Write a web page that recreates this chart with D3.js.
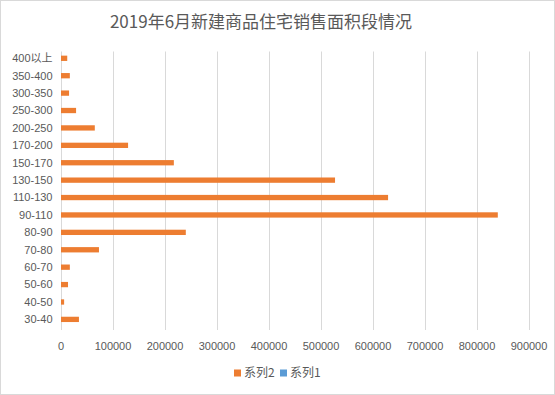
<!DOCTYPE html>
<html>
<head>
<meta charset="utf-8">
<script src="https://cdn.jsdelivr.net/npm/d3@7/dist/d3.min.js"></script>
<style>
  html, body { margin: 0; padding: 0; background: #fff; }
  svg { display: block; }
</style>
</head>
<body>
<div id="chart"></div>
<script>
// categories top to bottom
const categories = ["400以上", "350-400", "300-350", "250-300", "200-250", "170-200", "150-170",
  "130-150", "110-130", "90-110", "80-90", "70-80", "60-70", "50-60", "40-50", "30-40"];
const series2 = [12000, 17000, 15500, 29000, 65000, 129000, 217000,
  527000, 629000, 840000, 240000, 73000, 17000, 13500, 6000, 34500];
const series1 = categories.map(() => 0);
const seriesNames = ["系列2", "系列1"];
const xTicks = [0, 100000, 200000, 300000, 400000, 500000, 600000, 700000, 800000, 900000];

const ORANGE = "#ED7D31", BLUE = "#5B9BD5", GRID = "#d9d9d9", TEXT = "#595959";
const W = 555, H = 395;
const FONT = "'Liberation Sans', Arial, 'Noto Sans CJK SC', sans-serif";

const svg = d3.select("#chart").append("svg")
  .attr("width", W).attr("height", H);

svg.append("rect")
  .attr("x", 0.5).attr("y", 0.5)
  .attr("width", W - 1).attr("height", H - 1)
  .attr("fill", "#fff").attr("stroke", GRID);

svg.append("text")
  .attr("x", 261).attr("y", 28)
  .attr("text-anchor", "middle")
  .attr("fill", TEXT)
  .style("font-family", "'Microsoft YaHei', 'Noto Sans CJK SC', sans-serif")
  .style("font-size", "17px")
  .text("2019年6月新建商品住宅销售面积段情况");

const x = d3.scaleLinear().domain([0, 900000]).range([61, 529]);
const y = d3.scaleBand().domain(categories).range([51.5, 330]);
const inner = d3.scaleBand().domain(seriesNames).range([0, y.bandwidth()])
  .paddingInner(0).paddingOuter(0.64).align(0.61);

// gridlines
svg.append("g").selectAll("line")
  .data(xTicks)
  .enter().append("line")
  .attr("x1", d => Math.round(x(d)) + 0.5).attr("x2", d => Math.round(x(d)) + 0.5)
  .attr("y1", y.range()[0]).attr("y2", y.range()[1])
  .attr("stroke", GRID).attr("stroke-width", 1);

// bars
const rows = categories.map((c, i) => ({ cat: c, values: [series2[i], series1[i]] }));
const colors = [ORANGE, BLUE];
const row = svg.append("g").selectAll("g")
  .data(rows)
  .enter().append("g")
  .attr("transform", d => "translate(0," + y(d.cat) + ")");
row.selectAll("rect")
  .data(d => d.values.map((v, j) => ({ v: v, s: seriesNames[j], c: colors[j] })))
  .enter().append("rect")
  .attr("x", x(0))
  .attr("y", d => inner(d.s))
  .attr("height", inner.bandwidth())
  .attr("width", d => x(d.v) - x(0))
  .attr("fill", d => d.c);

// category labels
svg.append("g").selectAll("text")
  .data(categories)
  .enter().append("text")
  .attr("x", 52.5)
  .attr("y", d => y(d) + inner(seriesNames[0]) + inner.bandwidth() / 2)
  .attr("dy", "0.35em")
  .attr("text-anchor", "end")
  .attr("fill", TEXT)
  .style("font-family", FONT)
  .style("font-size", "11px")
  .text(d => d);

// x tick labels
svg.append("g").selectAll("text")
  .data(xTicks)
  .enter().append("text")
  .attr("x", d => x(d))
  .attr("y", 346)
  .attr("dy", "0.35em")
  .attr("text-anchor", "middle")
  .attr("fill", TEXT)
  .style("font-family", FONT)
  .style("font-size", "11px")
  .text(d => d);

// legend
const legend = svg.append("g").attr("transform", "translate(234,373)");
const lx = [0, 46];
seriesNames.forEach((name, i) => {
  legend.append("rect")
    .attr("x", lx[i]).attr("y", -3.5)
    .attr("width", 7).attr("height", 7)
    .attr("fill", colors[i]);
  legend.append("text")
    .attr("x", lx[i] + 10).attr("y", 0)
    .attr("dy", "0.35em")
    .attr("fill", TEXT)
    .style("font-family", "'Noto Sans CJK SC', sans-serif")
    .style("font-size", "12px")
    .text(name);
});
</script>
</body>
</html>
